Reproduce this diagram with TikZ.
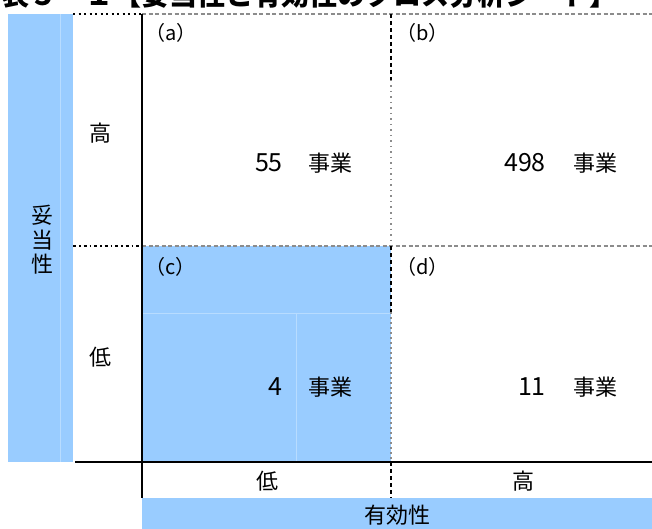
\documentclass[tikz,border=0pt]{standalone}
\usepackage{fontspec}
\setmainfont{Noto Sans CJK JP}
\definecolor{cellblue}{HTML}{99CCFF}
\definecolor{faintblue}{HTML}{B8DCFF}
\definecolor{dashgray}{HTML}{8C8C8C}
\begin{document}
\begin{tikzpicture}[x=1pt,y=-1pt,
  lbl/.style={inner sep=0pt, font=\fontsize{22}{24}\selectfont},
  num/.style={inner sep=0pt, anchor=east, font=\fontsize{25}{27}\selectfont},
  unit/.style={inner sep=0pt, anchor=west, font=\fontsize{22}{24}\selectfont},
  tag/.style={inner sep=0pt, anchor=west, font=\fontsize{20}{22}\selectfont},
  solidline/.style={line width=1.8pt, black},
  grayda/.style={line width=1.3pt, dashgray, dash pattern=on 4pt off 2.5pt},
  graydot/.style={line width=1.3pt, dashgray, dash pattern=on 1.5pt off 4pt},
  blackda/.style={line width=2.2pt, black, dash pattern=on 4pt off 3pt},
  blackdot/.style={line width=1.5pt, black, dash pattern=on 2pt off 3.5pt},
  faint/.style={line width=0.7pt, faintblue}]
\useasboundingbox (0,0) rectangle (652,529);
% fills
\fill[cellblue] (8,14) rectangle (73,462);
\fill[cellblue] (142,246) rectangle (391,462);
\fill[cellblue] (142,498) rectangle (652,529);
% faint cell borders
\coordinate (fa1) at (60,14); \coordinate (fa2) at (60,462);
\draw[faint] (fa1) -- (fa2);
\coordinate (fb1) at (142,313); \coordinate (fb2) at (391,313);
\draw[faint] (fb1) -- (fb2);
\coordinate (fc1) at (296,313); \coordinate (fc2) at (296,462);
\draw[faint] (fc1) -- (fc2);
% title (cut off at top, as in the reference)
\node[anchor=base west, inner sep=0pt, font=\bfseries\fontsize{28}{30}\selectfont] (title) at (1,6) {表５－１【妥当性と有効性のクロス分析シート】};
% grid coordinates
\coordinate (t0) at (73,14); \coordinate (t1) at (142,14); \coordinate (t2) at (652,14);
\coordinate (m0) at (73,246); \coordinate (m1) at (142,246); \coordinate (m2) at (652,246);
\coordinate (b0) at (75,462); \coordinate (b2) at (652,462);
\coordinate (v1) at (142,14); \coordinate (v2) at (142,498);
\coordinate (w0) at (391,14); \coordinate (w1) at (391,80); \coordinate (w2) at (391,246);
\coordinate (w3) at (391,312); \coordinate (w4) at (391,462); \coordinate (w5) at (391,498);
% lines
\draw[blackdot] (t0) -- (t1);
\draw[grayda] (t1) -- (t2);
\draw[blackdot, dash pattern=on 3pt off 3pt on 1.5pt off 3pt] (m0) -- (m1);
\draw[grayda] (m1) -- (m2);
\draw[blackda] (w0) -- (w1);
\draw[graydot] (w1) -- (w2);
\draw[blackda] (w2) -- (w3);
\draw[grayda, dash pattern=on 1.5pt off 3.5pt] (w3) -- (w4);
\draw[blackda] (w4) -- (w5);
\draw[solidline] (v1) -- (v2);
\draw[solidline] (b0) -- (b2);
% axis labels
\node[lbl, align=center, font=\fontsize{22}{24.5}\selectfont] (ylab) at (42,240) {妥\\当\\性};
\node[lbl] (yhigh) at (100,133) {高};
\node[lbl] (ylow) at (100,357) {低};
\node[lbl] (xlow) at (267,481) {低};
\node[lbl] (xhigh) at (523,481) {高};
\node[lbl] (xlab) at (397,515) {有効性};
% cell tags
\node[tag] (ta) at (145,33) {（a）};
\node[tag] (tb) at (396,33) {（b）};
\node[tag] (tc) at (145,267) {（c）};
\node[tag] (td) at (396,267) {（d）};
% counts
\node[num] (na) at (283,163) {55};
\node[unit] (ua) at (308,163) {事業};
\node[num] (nb) at (546,163) {498};
\node[unit] (ub) at (573,163) {事業};
\node[num] (nc) at (283,387) {4};
\node[unit] (uc) at (308,387) {事業};
\node[num] (nd) at (546,387) {11};
\node[unit] (ud) at (573,387) {事業};
\end{tikzpicture}
\end{document}
